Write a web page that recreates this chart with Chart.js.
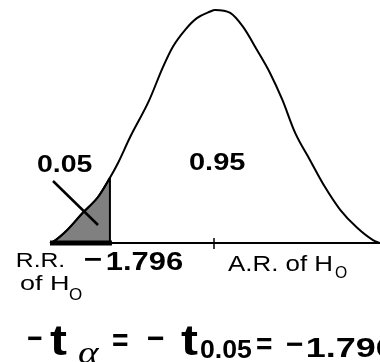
<!DOCTYPE html>
<html>
<head>
<meta charset="utf-8">
<script src="https://cdn.jsdelivr.net/npm/chart.js@4"></script>
<style>
  html, body { margin: 0; padding: 0; background: #fff; }
</style>
</head>
<body>
<canvas id="chart" width="380" height="362"></canvas>
<script>
// valores (t, altura de la curva)
const tValues = [-2.82, -2.77, -2.53, -2.26, -2.00, -1.796, -1.66, -1.45, -1.13, -0.89, -0.72, -0.51, -0.31, -0.09, 0,
  0.26, 0.48, 0.72, 0.94, 1.15, 1.37, 1.62, 1.88, 2.14, 2.43, 2.70, 2.82];
const density = [0, 0.002, 0.022, 0.052, 0.079, 0.112, 0.137, 0.182, 0.244, 0.302, 0.337, 0.366, 0.386, 0.397, 0.400,
  0.395, 0.371, 0.331, 0.292, 0.246, 0.189, 0.143, 0.096, 0.057, 0.026, 0.005, 0];
const critical = -1.796;
const alpha = 0.05;
const accept = 0.95;

const curvePoints = tValues.map((t, i) => ({ x: t, y: density[i] }));
const tailPoints = curvePoints.filter(p => p.x <= critical);

const FONT = '"Liberation Sans", Arial, sans-serif';

// dibuja texto ajustando el ancho de la tinta
function drawText(ctx, str, font, x, baseline, width) {
  ctx.font = font;
  const m = ctx.measureText(str);
  const ink = m.actualBoundingBoxLeft + m.actualBoundingBoxRight;
  const sx = width / ink;
  ctx.save();
  ctx.translate(x, baseline);
  ctx.scale(sx, 1);
  ctx.fillText(str, m.actualBoundingBoxLeft, 0);
  ctx.restore();
}

const decorations = {
  id: 'decorations',
  afterDatasetsDraw(chart) {
    const ctx = chart.ctx;
    const xs = chart.scales.x, ys = chart.scales.y;
    const y0 = ys.getPixelForValue(0);
    const xStart = xs.getPixelForValue(tValues[0]);
    const xEnd = xs.getPixelForValue(tValues[tValues.length - 1]);
    const xc = xs.getPixelForValue(critical);
    const hc = density[tValues.indexOf(critical)];

    ctx.save();
    ctx.strokeStyle = '#000';
    ctx.lineCap = 'butt';

    // eje horizontal
    ctx.lineWidth = 2;
    ctx.beginPath();
    ctx.moveTo(xStart, y0);
    ctx.lineTo(xEnd, y0);
    ctx.stroke();

    // zona de rechazo (linea gruesa)
    ctx.lineWidth = 5;
    ctx.beginPath();
    ctx.moveTo(xStart, y0);
    ctx.lineTo(xc + 2, y0);
    ctx.stroke();

    // borde vertical del area sombreada
    ctx.lineWidth = 2;
    ctx.beginPath();
    ctx.moveTo(xc, y0);
    ctx.lineTo(xc, ys.getPixelForValue(hc));
    ctx.stroke();

    // marca en t = 0
    const x0 = xs.getPixelForValue(0) - 1;
    ctx.lineWidth = 1.5;
    ctx.beginPath();
    ctx.moveTo(x0, y0 - 5);
    ctx.lineTo(x0, y0 + 6);
    ctx.stroke();

    // flecha hacia el area
    ctx.lineWidth = 2.5;
    ctx.beginPath();
    ctx.moveTo(53, 181);
    ctx.lineTo(98, 225);
    ctx.stroke();

    ctx.fillStyle = '#000';
    ctx.textBaseline = 'alphabetic';
    drawText(ctx, alpha.toFixed(2), 'bold 24px ' + FONT, 37, 172, 55);
    drawText(ctx, accept.toFixed(2), 'bold 24px ' + FONT, 189, 170, 56);
    drawText(ctx, '\u2212', 'bold 26px ' + FONT, 85, 268, 17);
    drawText(ctx, '1.796', 'bold 25px ' + FONT, 107, 270, 75);
    drawText(ctx, 'R.R.', '21px ' + FONT, 17, 267, 46);
    drawText(ctx, 'of H', '21px ' + FONT, 20, 290, 48);
    drawText(ctx, 'O', '17px ' + FONT, 69, 300, 13);
    drawText(ctx, 'A.R. of H', '22px ' + FONT, 228, 271, 104);
    drawText(ctx, 'O', '17px ' + FONT, 335, 278, 12);

    // formula inferior
    drawText(ctx, '\u2212', 'bold 32px ' + FONT, 28, 349, 14);
    drawText(ctx, 't', 'bold 42px ' + FONT, 50, 355, 17);
    drawText(ctx, '\u03b1', 'italic 32px "Liberation Serif", serif', 78, 363, 22);
    drawText(ctx, '=', 'bold 32px ' + FONT, 113, 351, 15);
    drawText(ctx, '\u2212', 'bold 32px ' + FONT, 148, 349, 16);
    drawText(ctx, 't', 'bold 42px ' + FONT, 181, 355, 17);
    drawText(ctx, '0.05', 'bold 25px ' + FONT, 200, 358, 52);
    drawText(ctx, '=', 'bold 30px ' + FONT, 257, 354, 15);
    drawText(ctx, '\u2212', 'bold 30px ' + FONT, 287, 354, 16);
    drawText(ctx, '1.796', 'bold 28px ' + FONT, 307, 357, 88);
    ctx.restore();
  }
};

new Chart(document.getElementById('chart'), {
  type: 'line',
  data: {
    datasets: [
      {
        data: curvePoints,
        borderColor: '#000',
        borderWidth: 2,
        pointRadius: 0,
        cubicInterpolationMode: 'monotone',
        fill: false
      },
      {
        data: tailPoints,
        borderColor: '#000',
        borderWidth: 2,
        backgroundColor: '#808080',
        pointRadius: 0,
        cubicInterpolationMode: 'monotone',
        fill: 'origin'
      }
    ]
  },
  options: {
    responsive: false,
    animation: false,
    events: [],
    layout: { padding: 0 },
    plugins: { legend: { display: false }, tooltip: { enabled: false } },
    scales: {
      x: { type: 'linear', min: -3.675, max: 2.82, display: false },
      y: { min: -0.2043, max: 0.4172, display: false }
    }
  },
  plugins: [decorations]
});
</script>
</body>
</html>
